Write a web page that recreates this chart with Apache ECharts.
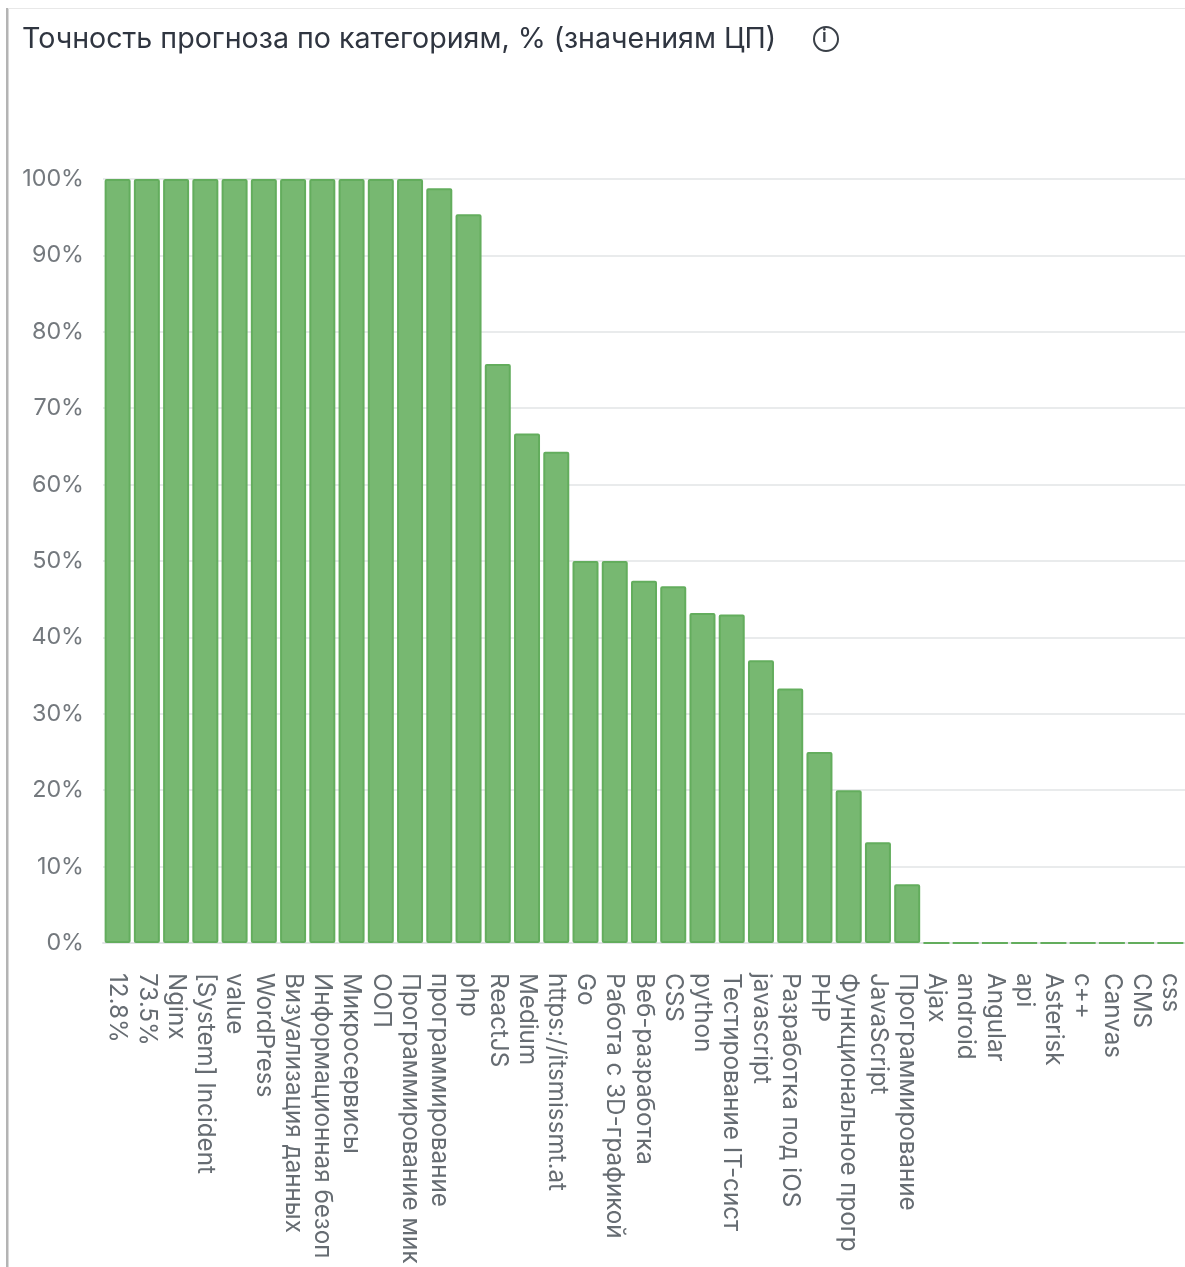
<!DOCTYPE html>
<html><head><meta charset="utf-8">
<style>html,body{margin:0;padding:0;background:#fff}#c{width:1185px;height:1267px}</style>
<script src="https://cdn.jsdelivr.net/npm/echarts@6/dist/echarts.min.js"></script>
</head><body><div id="c"></div>
<script>
const titleText = 'Точность прогноза по категориям, % (значениям ЦП)';
const categories = ['12.8%','73.5%','Nginx','[System] Incident','value','WordPress','Визуализация данных','Информационная безоп','Микросервисы','ООП','Программирование мик','программирование','php','ReactJS','Medium','https://itsmissmt.at','Go','Работа с 3D-графикой','Веб-разработка','CSS','python','Тестирование IT-сист','javascript','Разработка под iOS','PHP','Функциональное прогр','JavaScript','Программирование','Ajax','android','Angular','api','Asterisk','c++','Canvas','CMS','css'];
const accuracy = [100,100,100,100,100,100,100,100,100,100,100,98.8,95.4,75.8,66.7,64.3,50,50,47.4,46.7,43.2,43,37,33.3,25,20,13.2,7.7,0,0,0,0,0,0,0,0,0];
const font = 'Inter, "Noto Sans", sans-serif';
const chart = echarts.init(document.getElementById('c'));
chart.setOption({
  animation:false,
  backgroundColor:'#fff',
  title:{text:titleText,left:17,top:20,textStyle:{fontFamily:font,fontSize:28.6,fontWeight:400,color:'#2f3540'}},
  grid:{left:103,right:0,top:179,bottom:324,containLabel:false},
  xAxis:{type:'category',data:categories,
    axisLine:{show:true,lineStyle:{color:'#e4e6e8',width:2}},axisTick:{show:false},
    axisLabel:{interval:0,rotate:-90,margin:30,fontFamily:font,fontSize:24.2,color:'#666c72',verticalAlign:'middle',padding:[3,0,0,0]}},
  yAxis:{type:'value',min:0,max:100,interval:10,
    axisLine:{show:false},axisTick:{show:false},
    axisLabel:{margin:19,formatter:'{value}%',fontFamily:font,fontSize:23.3,color:'#74797e',padding:[2,0,0,0]},
    splitLine:{lineStyle:{color:'#e9ebec',width:2}}},
  series:[{type:'bar',data:accuracy,barWidth:26,
    itemStyle:{color:'#77b871',borderColor:'#63ad5d',borderWidth:2,borderRadius:1}}],
  graphic:[
    {type:'rect',left:6,top:8,shape:{width:2.5,height:1259},style:{fill:'#b4b4b4'},silent:true},
    {type:'rect',left:8,top:8,shape:{width:1177,height:1},style:{fill:'#e8e8e8'},silent:true},
    {type:'circle',left:813,top:26,shape:{r:12},style:{fill:'#fff',stroke:'#3a4048',lineWidth:2},silent:true},
    {type:'text',left:822,top:28,style:{text:'i',fill:'#3a4048',font:'600 18px '+font},silent:true}
  ]
});
</script></body></html>
